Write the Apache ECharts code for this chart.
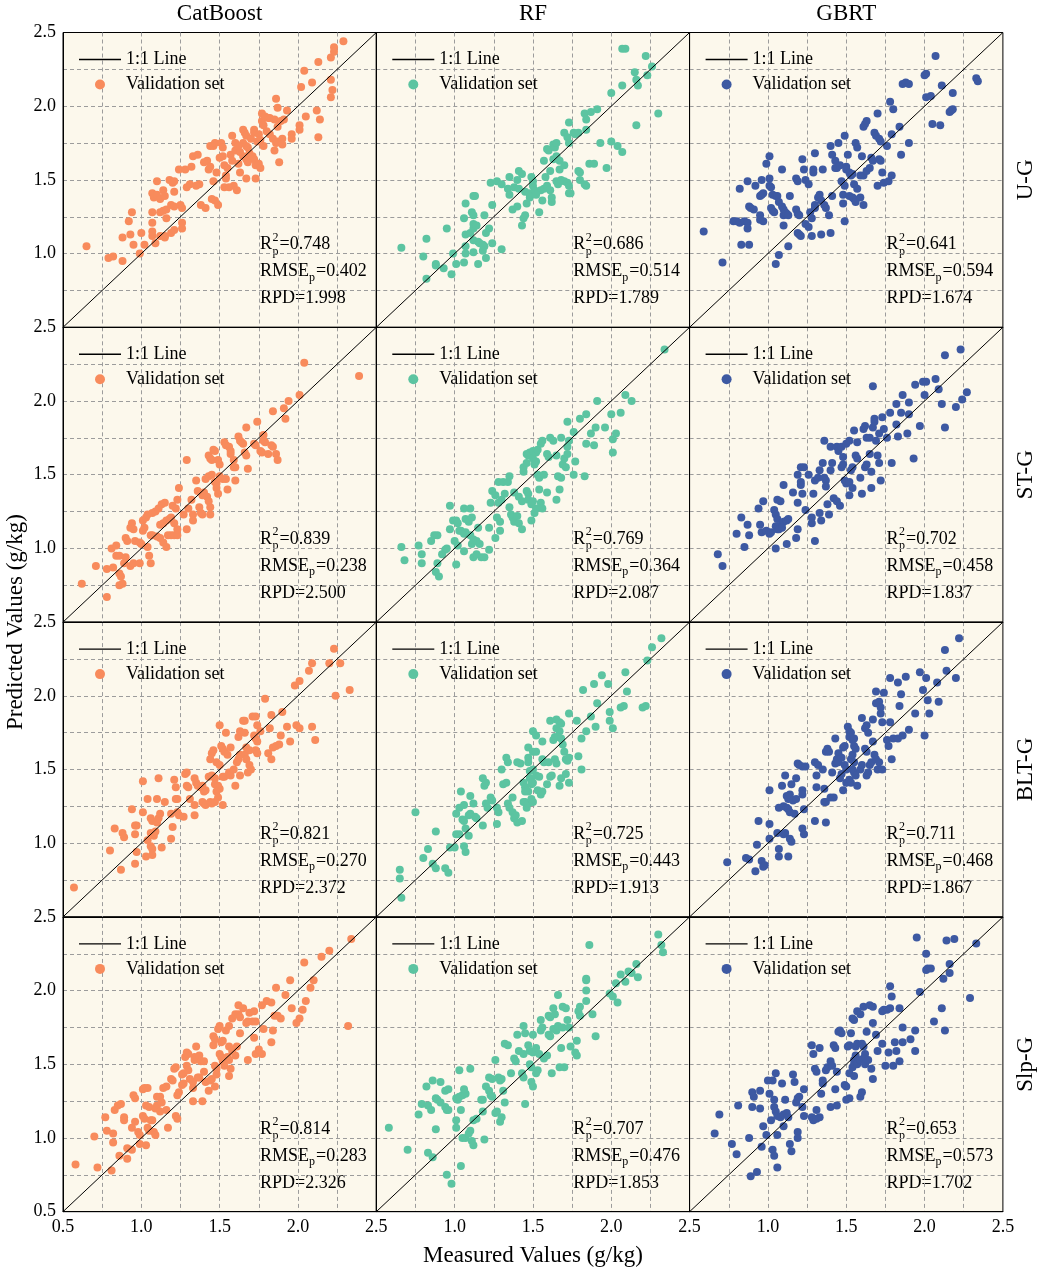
<!DOCTYPE html>
<html lang="en">
<head>
<meta charset="UTF-8">
<title>Measured vs Predicted</title>
<script src="https://cdn.jsdelivr.net/npm/echarts@6/dist/echarts.min.js"></script>
<style>
html, body { margin: 0; padding: 0; background: #fff; }
#chart { width: 1045px; height: 1276px; }
</style>
</head>
<body>
<div id="chart"></div>
<script>
// models (columns) and input groups (rows)
const models = ['CatBoost', 'RF', 'GBRT'];
const groups = ['U-G', 'ST-G', 'BLT-G', 'Slp-G'];
const colors = ['#F88B5C', '#5CC4A1', '#3D59A2'];
const tickLabels = ['0.5', '1.0', '1.5', '2.0', '2.5'];

// statistics per row (U-G, ST-G, BLT-G, Slp-G), per column (CatBoost, RF, GBRT)
const r2Vals = [['0.748', '0.686', '0.641'], ['0.839', '0.769', '0.702'], ['0.821', '0.725', '0.711'], ['0.814', '0.707', '0.653']];
const rmseVals = [['0.402', '0.514', '0.594'], ['0.238', '0.364', '0.458'], ['0.270', '0.443', '0.468'], ['0.283', '0.476', '0.573']];
const rpdVals = [['1.998', '1.789', '1.674'], ['2.500', '2.087', '1.837'], ['2.372', '1.913', '1.867'], ['2.326', '1.853', '1.702']];

// [measured, predicted]
const ugCat = [[0.65,1.05],[0.79,0.97],[0.82,0.98],[0.88,0.95],[0.88,1.11],[0.93,1.13],[0.92,1.22],[0.94,1.28],[0.95,1.06],[0.99,1.00],[1.00,1.14],[1.02,1.06],[1.07,1.12],[1.07,1.15],[1.07,1.21],[1.07,1.28],[1.07,1.41],[1.08,1.38],[1.10,1.49],[1.09,1.07],[1.12,1.12],[1.15,1.12],[1.15,1.11],[1.12,1.28],[1.14,1.29],[1.16,1.30],[1.16,1.24],[1.10,1.40],[1.12,1.37],[1.14,1.43],[1.15,1.39],[1.18,1.50],[1.20,1.48],[1.21,1.49],[1.21,1.42],[1.19,1.14],[1.21,1.16],[1.19,1.33],[1.21,1.32],[1.25,1.33],[1.26,1.31],[1.26,1.21],[1.26,1.17],[1.24,1.57],[1.28,1.57],[1.32,1.59],[1.33,1.66],[1.36,1.67],[1.31,1.47],[1.37,1.47],[1.38,1.33],[1.41,1.31],[1.42,1.63],[1.43,1.57],[1.44,1.73],[1.46,1.73],[1.47,1.75],[1.45,1.37],[1.47,1.36],[1.49,1.33],[1.46,1.49],[1.51,1.75],[1.52,1.72],[1.52,1.66],[1.53,1.60],[1.54,1.53],[1.54,1.51],[1.53,1.45],[1.58,1.80],[1.57,1.67],[1.60,1.70],[1.59,1.46],[1.61,1.43],[1.62,1.61],[1.63,1.55],[1.65,1.84],[1.66,1.82],[1.67,1.80],[1.65,1.75],[1.67,1.73],[1.68,1.72],[1.65,1.66],[1.67,1.64],[1.68,1.62],[1.69,1.68],[1.71,1.66],[1.72,1.64],[1.67,1.51],[1.72,1.84],[1.72,1.82],[1.75,1.81],[1.74,1.76],[1.76,1.77],[1.73,1.60],[1.75,1.61],[1.76,1.58],[1.73,1.51],[1.77,1.90],[1.78,1.87],[1.77,1.95],[1.79,1.93],[1.81,1.92],[1.82,1.92],[1.82,1.81],[1.85,1.91],[1.87,1.86],[1.84,1.78],[1.86,1.75],[1.87,1.76],[1.85,1.70],[1.86,2.05],[1.87,1.99],[1.88,1.62],[1.89,1.90],[1.91,1.91],[1.93,1.97],[1.90,1.78],[1.90,1.74],[1.96,1.81],[1.96,1.78],[2.01,1.87],[2.01,1.84],[2.02,2.13],[2.04,2.24],[2.05,1.93],[2.09,2.16],[2.12,1.97],[2.14,1.91],[2.13,1.79],[2.13,2.30],[2.21,2.33],[2.21,2.18],[2.21,2.06],[2.22,2.11],[2.23,2.40],[2.23,2.37],[2.29,2.44],[1.40,1.62],[1.44,1.59],[1.48,1.55],[1.55,1.58],[1.58,1.63],[1.60,1.75],[1.63,1.69],[1.50,1.65],[1.35,1.46],[1.29,1.45],[1.56,1.45],[1.62,1.73],[1.70,1.78],[1.78,1.73],[1.80,1.83]];
const ugRf = [[0.66,1.04],[0.80,0.98],[0.82,1.10],[0.82,0.83],[0.88,0.93],[0.88,0.92],[0.93,0.90],[0.95,1.17],[0.98,0.86],[0.99,1.00],[1.01,0.93],[1.06,0.94],[1.07,1.00],[1.07,1.05],[1.07,1.34],[1.06,1.24],[1.07,1.13],[1.10,1.14],[1.11,1.28],[1.12,1.26],[1.12,1.39],[1.13,1.39],[1.12,1.20],[1.12,1.17],[1.14,1.19],[1.12,1.01],[1.12,1.09],[1.15,1.08],[1.15,0.93],[1.16,1.07],[1.18,1.06],[1.19,1.05],[1.18,1.02],[1.20,0.97],[1.19,1.26],[1.20,1.14],[1.22,1.17],[1.23,1.48],[1.24,1.07],[1.24,1.33],[1.30,1.03],[1.27,1.49],[1.30,1.47],[1.34,1.44],[1.35,1.52],[1.37,1.30],[1.38,1.45],[1.40,1.32],[1.41,1.44],[1.41,1.56],[1.43,1.54],[1.43,1.19],[1.44,1.24],[1.45,1.26],[1.46,1.34],[1.48,1.38],[1.48,1.40],[1.49,1.52],[1.50,1.46],[1.50,1.49],[1.48,1.41],[1.51,1.43],[1.54,1.28],[1.55,1.43],[1.57,1.44],[1.59,1.46],[1.57,1.63],[1.59,1.71],[1.60,1.70],[1.61,1.43],[1.62,1.35],[1.62,1.38],[1.63,1.74],[1.64,1.72],[1.65,1.75],[1.63,1.64],[1.65,1.66],[1.65,1.49],[1.66,1.47],[1.67,1.57],[1.68,1.50],[1.70,1.49],[1.72,1.48],[1.73,1.46],[1.70,1.82],[1.72,1.79],[1.73,1.75],[1.73,1.89],[1.73,1.41],[1.74,1.41],[1.76,1.82],[1.77,1.81],[1.79,1.82],[1.79,1.56],[1.80,1.50],[1.80,1.55],[1.83,1.95],[1.84,1.91],[1.84,1.84],[1.84,1.46],[1.83,1.47],[1.87,1.96],[1.86,1.61],[1.89,1.61],[1.91,1.98],[1.93,1.75],[1.97,1.58],[2.00,2.09],[2.00,1.76],[2.04,1.73],[2.07,2.14],[2.07,1.69],[2.07,2.39],[2.09,2.39],[2.15,2.23],[2.16,2.18],[2.17,2.14],[2.16,1.87],[2.22,2.34],[2.23,2.21],[2.26,2.27],[2.30,1.95],[1.52,1.40],[1.56,1.36],[1.45,1.42],[1.58,1.52],[1.61,1.56],[1.67,1.63],[1.70,1.60],[1.40,1.50],[1.35,1.40]];
const ugGbrt = [[0.59,1.15],[0.71,0.94],[0.78,1.22],[0.80,1.22],[0.82,1.21],[0.85,1.22],[0.87,1.21],[0.87,1.17],[0.83,1.06],[0.88,1.06],[0.82,1.44],[0.87,1.49],[0.88,1.32],[0.89,1.31],[0.91,1.30],[0.92,1.46],[0.95,1.39],[0.96,1.40],[0.97,1.41],[0.95,1.26],[0.95,1.23],[0.97,1.22],[0.96,1.50],[0.99,1.61],[1.01,1.66],[1.01,1.51],[1.01,1.46],[1.02,1.45],[1.02,1.31],[1.03,1.29],[1.04,1.28],[1.03,1.40],[1.05,1.39],[1.06,1.39],[1.05,0.93],[1.07,0.99],[1.07,1.35],[1.09,1.32],[1.10,1.30],[1.09,1.57],[1.10,1.26],[1.11,1.28],[1.12,1.27],[1.13,1.26],[1.10,1.19],[1.13,1.05],[1.14,1.39],[1.18,1.51],[1.19,1.49],[1.18,1.30],[1.19,1.27],[1.20,1.26],[1.19,1.14],[1.20,1.13],[1.21,1.12],[1.22,1.64],[1.23,1.57],[1.24,1.50],[1.26,1.47],[1.24,1.20],[1.26,1.18],[1.27,1.28],[1.28,1.24],[1.28,1.12],[1.29,1.57],[1.29,1.55],[1.30,1.33],[1.30,1.31],[1.30,1.68],[1.32,1.38],[1.33,1.40],[1.34,1.36],[1.34,1.13],[1.35,1.57],[1.36,1.33],[1.37,1.31],[1.39,1.26],[1.40,1.14],[1.40,1.73],[1.41,1.67],[1.43,1.63],[1.41,1.39],[1.43,1.58],[1.44,1.58],[1.46,1.60],[1.45,1.75],[1.47,1.49],[1.48,1.40],[1.49,1.46],[1.48,1.34],[1.49,1.80],[1.49,1.22],[1.50,1.59],[1.50,1.57],[1.51,1.67],[1.52,1.55],[1.53,1.53],[1.54,1.54],[1.52,1.39],[1.54,1.38],[1.55,1.37],[1.55,1.47],[1.57,1.44],[1.56,1.75],[1.57,1.72],[1.56,1.35],[1.59,1.38],[1.61,1.33],[1.59,1.53],[1.61,1.53],[1.63,1.56],[1.65,1.58],[1.60,1.66],[1.61,1.86],[1.62,1.88],[1.63,1.90],[1.66,1.65],[1.67,1.63],[1.68,1.82],[1.69,1.80],[1.70,1.46],[1.70,1.95],[1.71,1.78],[1.72,1.76],[1.71,1.64],[1.72,1.63],[1.73,1.55],[1.74,1.48],[1.77,1.49],[1.76,1.73],[1.78,2.03],[1.79,1.81],[1.79,1.53],[1.80,1.98],[1.84,1.86],[1.85,1.67],[1.86,2.15],[1.88,2.16],[1.90,2.15],[1.90,1.75],[2.00,2.21],[2.01,2.22],[2.01,2.06],[2.04,2.07],[2.05,1.88],[2.07,2.34],[2.10,1.87],[2.11,2.14],[2.16,1.96],[2.17,1.97],[2.18,1.98],[2.18,2.09],[2.33,2.19],[2.34,2.17]];
const stCat = [[0.62,0.76],[0.71,0.88],[0.78,0.86],[0.82,0.87],[0.78,0.67],[0.81,1.00],[0.84,1.02],[0.84,0.95],[0.86,0.95],[0.86,0.83],[0.87,0.81],[0.86,0.75],[0.88,0.76],[0.89,0.90],[0.90,0.94],[0.90,1.07],[0.91,1.05],[0.93,1.14],[0.94,1.17],[0.95,1.13],[0.93,0.88],[0.95,0.90],[0.96,1.05],[0.99,1.04],[1.00,1.03],[0.99,0.90],[1.01,1.19],[1.03,1.21],[1.04,1.23],[1.01,1.12],[1.02,1.14],[1.04,1.01],[1.05,0.95],[1.06,0.90],[1.06,1.09],[1.07,1.09],[1.07,1.24],[1.09,1.25],[1.11,1.27],[1.10,1.08],[1.12,1.07],[1.12,1.16],[1.14,1.17],[1.13,1.30],[1.15,1.31],[1.14,1.04],[1.16,1.01],[1.16,1.19],[1.18,1.20],[1.19,1.21],[1.17,1.09],[1.19,1.09],[1.21,1.09],[1.23,1.09],[1.20,1.29],[1.22,1.27],[1.21,1.17],[1.23,1.33],[1.24,1.41],[1.23,1.13],[1.27,1.23],[1.30,1.27],[1.29,1.60],[1.29,1.13],[1.32,1.33],[1.33,1.23],[1.33,1.19],[1.35,1.46],[1.36,1.39],[1.37,1.28],[1.38,1.24],[1.39,1.23],[1.39,1.36],[1.40,1.38],[1.41,1.47],[1.43,1.49],[1.45,1.50],[1.42,1.35],[1.43,1.32],[1.44,1.28],[1.44,1.23],[1.43,1.63],[1.44,1.61],[1.45,1.60],[1.46,1.67],[1.47,1.66],[1.47,1.45],[1.48,1.44],[1.48,1.41],[1.49,1.60],[1.50,1.57],[1.49,1.37],[1.50,1.49],[1.52,1.47],[1.53,1.72],[1.54,1.70],[1.54,1.47],[1.55,1.40],[1.56,1.69],[1.57,1.66],[1.57,1.64],[1.59,1.60],[1.59,1.55],[1.60,1.55],[1.60,1.46],[1.62,1.76],[1.63,1.73],[1.64,1.72],[1.65,1.71],[1.66,1.65],[1.67,1.63],[1.67,1.82],[1.68,1.54],[1.72,1.71],[1.73,1.70],[1.74,1.86],[1.76,1.66],[1.78,1.77],[1.78,1.73],[1.79,1.72],[1.77,1.65],[1.81,1.64],[1.83,1.70],[1.84,1.69],[1.84,1.93],[1.86,1.64],[1.87,1.60],[1.91,1.95],[1.92,1.88],[1.94,2.00],[2.01,2.04],[2.04,2.26],[2.39,2.17]];
const stRf = [[0.66,1.01],[0.68,0.92],[0.77,1.02],[0.79,0.96],[0.79,0.90],[0.85,1.05],[0.87,1.09],[0.89,1.09],[0.89,0.90],[0.88,0.84],[0.90,0.81],[0.92,0.96],[0.94,0.99],[0.95,1.00],[0.97,1.29],[0.97,1.13],[0.99,1.19],[1.01,1.19],[1.02,1.17],[1.01,0.89],[1.00,1.05],[1.02,1.02],[1.03,1.12],[1.04,1.12],[1.06,1.10],[1.06,1.27],[1.07,1.20],[1.09,1.18],[1.06,0.98],[1.10,1.27],[1.11,1.21],[1.07,1.11],[1.10,1.09],[1.11,1.03],[1.12,0.94],[1.14,0.96],[1.12,1.06],[1.14,1.05],[1.15,1.14],[1.16,1.03],[1.17,0.94],[1.19,0.94],[1.22,0.99],[1.22,1.14],[1.23,1.31],[1.24,1.39],[1.26,1.36],[1.26,1.07],[1.27,1.21],[1.29,1.18],[1.28,1.45],[1.28,1.31],[1.30,1.33],[1.29,1.12],[1.31,1.45],[1.34,1.45],[1.32,1.37],[1.35,1.49],[1.35,1.28],[1.36,1.23],[1.37,1.21],[1.38,1.18],[1.38,1.38],[1.40,1.22],[1.41,1.17],[1.43,1.13],[1.41,1.35],[1.43,1.32],[1.44,1.52],[1.44,1.55],[1.46,1.58],[1.46,1.64],[1.47,1.63],[1.48,1.65],[1.46,1.39],[1.47,1.37],[1.47,1.33],[1.49,1.19],[1.49,1.30],[1.50,1.32],[1.50,1.61],[1.51,1.57],[1.52,1.59],[1.50,1.66],[1.52,1.65],[1.53,1.67],[1.51,1.24],[1.52,1.27],[1.53,1.50],[1.54,1.48],[1.54,1.40],[1.55,1.31],[1.56,1.27],[1.55,1.71],[1.56,1.73],[1.57,1.50],[1.59,1.64],[1.60,1.62],[1.59,1.38],[1.61,1.75],[1.63,1.73],[1.65,1.63],[1.65,1.33],[1.66,1.49],[1.68,1.48],[1.67,1.40],[1.68,1.75],[1.69,1.57],[1.70,1.61],[1.71,1.55],[1.72,1.86],[1.72,1.64],[1.72,1.69],[1.73,1.73],[1.76,1.79],[1.76,1.50],[1.77,1.59],[1.80,1.88],[1.83,1.49],[1.84,1.91],[1.84,1.71],[1.87,1.78],[1.89,1.70],[1.90,1.82],[1.91,2.00],[1.96,1.82],[2.00,1.91],[2.01,1.65],[2.01,1.74],[2.03,1.78],[2.06,1.92],[2.09,2.04],[2.13,2.00],[2.34,2.35]];
const stGbrt = [[0.68,0.96],[0.71,0.88],[0.80,1.10],[0.83,1.21],[0.85,1.01],[0.87,1.16],[0.88,1.09],[0.94,1.27],[0.95,1.16],[0.96,1.11],[0.97,1.32],[0.99,1.12],[1.01,1.10],[1.02,1.11],[1.04,1.26],[1.05,1.23],[1.06,1.20],[1.05,1.00],[1.05,1.15],[1.06,1.13],[1.06,1.33],[1.08,1.32],[1.09,1.17],[1.10,1.18],[1.12,1.19],[1.13,1.20],[1.07,1.13],[1.09,1.14],[1.10,1.43],[1.12,1.03],[1.16,1.38],[1.18,1.07],[1.19,1.13],[1.19,1.31],[1.19,1.50],[1.21,1.55],[1.23,1.55],[1.21,1.45],[1.21,1.43],[1.22,1.37],[1.24,1.26],[1.26,1.50],[1.28,1.21],[1.28,1.17],[1.29,1.37],[1.30,1.05],[1.30,1.46],[1.32,1.48],[1.33,1.53],[1.33,1.24],[1.34,1.19],[1.35,1.58],[1.36,1.48],[1.37,1.46],[1.36,1.73],[1.37,1.42],[1.38,1.30],[1.39,1.23],[1.40,1.69],[1.40,1.53],[1.41,1.58],[1.42,1.34],[1.44,1.32],[1.44,1.69],[1.45,1.66],[1.47,1.69],[1.46,1.29],[1.47,1.55],[1.48,1.62],[1.48,1.57],[1.49,1.46],[1.50,1.44],[1.52,1.45],[1.50,1.71],[1.52,1.73],[1.52,1.36],[1.53,1.53],[1.54,1.55],[1.54,1.41],[1.55,1.80],[1.56,1.63],[1.57,1.61],[1.57,1.72],[1.59,1.48],[1.60,1.37],[1.61,1.81],[1.62,1.83],[1.62,1.55],[1.63,1.57],[1.63,1.75],[1.65,1.75],[1.65,1.64],[1.66,1.52],[1.66,1.41],[1.67,1.82],[1.68,1.86],[1.68,1.88],[1.67,2.10],[1.69,1.73],[1.71,1.78],[1.70,1.63],[1.71,1.58],[1.72,1.46],[1.73,1.89],[1.74,1.81],[1.76,1.75],[1.78,1.92],[1.79,1.58],[1.82,1.98],[1.82,1.84],[1.83,1.76],[1.85,1.92],[1.86,2.04],[1.89,1.78],[1.90,1.99],[1.90,1.91],[1.93,1.61],[1.94,2.11],[1.97,1.83],[1.99,2.13],[2.01,2.13],[2.00,2.04],[2.07,2.15],[2.09,2.08],[2.11,1.98],[2.13,1.82],[2.13,2.31],[2.20,1.96],[2.23,2.35],[2.24,2.01],[2.27,2.06]];
const bltCat = [[0.57,0.70],[0.80,0.95],[0.83,1.10],[0.87,0.82],[0.88,1.07],[0.89,1.04],[0.94,1.23],[0.96,1.12],[0.97,1.12],[0.96,1.06],[0.96,0.86],[0.97,0.94],[1.01,1.21],[1.01,1.42],[1.03,0.91],[1.04,1.30],[1.04,1.02],[1.06,0.98],[1.07,0.96],[1.06,1.17],[1.07,1.15],[1.10,1.14],[1.11,1.17],[1.06,1.07],[1.08,1.05],[1.09,1.08],[1.07,0.92],[1.10,1.30],[1.11,1.44],[1.12,1.20],[1.13,0.97],[1.15,1.28],[1.19,1.03],[1.19,1.20],[1.20,1.11],[1.21,1.43],[1.22,1.38],[1.22,1.30],[1.23,1.30],[1.23,1.21],[1.24,1.19],[1.27,1.18],[1.28,1.47],[1.29,1.48],[1.29,1.39],[1.30,1.38],[1.31,1.30],[1.34,1.19],[1.34,1.26],[1.34,1.44],[1.35,1.41],[1.36,1.39],[1.38,1.38],[1.39,1.39],[1.39,1.28],[1.40,1.27],[1.41,1.26],[1.40,1.35],[1.41,1.36],[1.43,1.45],[1.44,1.57],[1.45,1.61],[1.46,1.63],[1.44,1.28],[1.45,1.27],[1.47,1.28],[1.45,1.46],[1.47,1.44],[1.47,1.40],[1.49,1.39],[1.50,1.37],[1.48,1.35],[1.49,1.31],[1.48,1.55],[1.50,1.53],[1.50,1.80],[1.51,1.66],[1.52,1.64],[1.53,1.62],[1.52,1.45],[1.53,1.45],[1.52,1.26],[1.54,1.75],[1.55,1.60],[1.56,1.48],[1.57,1.46],[1.59,1.50],[1.57,1.65],[1.60,1.39],[1.61,1.55],[1.62,1.57],[1.63,1.60],[1.62,1.72],[1.63,1.76],[1.63,1.46],[1.65,1.83],[1.66,1.83],[1.66,1.75],[1.66,1.60],[1.67,1.57],[1.67,1.65],[1.69,1.63],[1.68,1.48],[1.69,1.53],[1.70,1.50],[1.71,1.86],[1.73,1.86],[1.72,1.73],[1.73,1.71],[1.74,1.69],[1.73,1.63],[1.74,1.61],[1.74,1.80],[1.76,1.76],[1.79,1.98],[1.81,1.61],[1.83,1.57],[1.82,1.78],[1.83,1.87],[1.84,1.65],[1.86,1.66],[1.88,1.67],[1.89,1.73],[1.90,1.89],[1.93,1.79],[1.95,1.69],[1.98,2.07],[2.01,2.10],[1.99,1.80],[2.01,1.78],[2.07,2.17],[2.09,2.22],[2.09,1.79],[2.11,1.70],[2.20,2.22],[2.23,2.32],[2.24,2.00],[2.27,2.22],[2.33,2.04]];
const bltRf = [[0.66,0.63],[0.65,0.76],[0.65,0.82],[0.75,1.21],[0.80,0.90],[0.83,0.96],[0.86,0.86],[0.88,0.83],[0.88,1.08],[0.94,0.83],[0.96,0.80],[0.97,0.97],[1.00,0.97],[1.01,1.06],[1.03,1.06],[1.01,1.20],[1.03,1.24],[1.04,1.35],[1.06,1.26],[1.05,1.16],[1.06,1.15],[1.06,0.98],[1.07,0.94],[1.07,1.10],[1.09,1.05],[1.09,1.19],[1.10,1.20],[1.10,1.32],[1.12,1.27],[1.13,1.18],[1.14,1.17],[1.18,1.12],[1.18,1.44],[1.19,1.39],[1.20,1.41],[1.20,1.27],[1.21,1.24],[1.23,1.31],[1.24,1.29],[1.27,1.24],[1.28,1.21],[1.27,1.13],[1.30,1.50],[1.31,1.40],[1.33,1.41],[1.33,1.58],[1.34,1.55],[1.34,1.27],[1.35,1.24],[1.37,1.31],[1.37,1.21],[1.38,1.17],[1.39,1.19],[1.40,1.55],[1.42,1.54],[1.40,1.14],[1.43,1.15],[1.44,1.41],[1.45,1.38],[1.44,1.28],[1.45,1.28],[1.45,1.35],[1.47,1.35],[1.46,1.24],[1.47,1.27],[1.47,1.58],[1.47,1.55],[1.47,1.65],[1.48,1.44],[1.49,1.40],[1.50,1.41],[1.48,1.49],[1.50,1.50],[1.49,1.30],[1.50,1.28],[1.50,1.62],[1.52,1.62],[1.50,1.76],[1.52,1.73],[1.52,1.46],[1.54,1.45],[1.53,1.36],[1.55,1.33],[1.56,1.35],[1.56,1.57],[1.57,1.55],[1.56,1.69],[1.59,1.40],[1.60,1.55],[1.61,1.83],[1.61,1.45],[1.62,1.46],[1.63,1.70],[1.64,1.72],[1.64,1.57],[1.65,1.54],[1.65,1.84],[1.67,1.82],[1.68,1.81],[1.65,1.78],[1.67,1.76],[1.66,1.72],[1.68,1.71],[1.67,1.39],[1.68,1.44],[1.69,1.67],[1.70,1.62],[1.71,1.57],[1.71,1.47],[1.72,1.56],[1.73,1.58],[1.73,1.41],[1.73,1.88],[1.78,1.83],[1.79,1.59],[1.81,1.50],[1.81,1.71],[1.82,2.04],[1.84,1.76],[1.87,1.86],[1.89,2.08],[1.90,1.79],[1.91,1.95],[1.94,2.14],[1.98,2.08],[1.99,1.89],[1.99,1.83],[2.01,1.78],[2.06,1.92],[2.08,1.93],[2.09,2.16],[2.10,2.03],[2.20,1.92],[2.22,1.93],[2.23,2.24],[2.26,2.33],[2.32,2.39]];
const bltGbrt = [[0.74,0.87],[0.86,0.90],[0.88,0.89],[0.92,0.81],[0.96,0.88],[0.97,0.84],[0.98,0.85],[0.93,0.99],[0.94,1.15],[1.01,1.13],[1.01,1.03],[1.01,1.36],[1.06,1.07],[1.10,1.06],[1.11,1.07],[1.07,0.96],[1.07,0.91],[1.13,0.91],[1.07,1.24],[1.10,1.25],[1.09,1.39],[1.11,1.46],[1.12,1.32],[1.13,1.30],[1.14,1.33],[1.12,1.24],[1.13,1.23],[1.14,1.21],[1.14,1.03],[1.15,1.01],[1.15,1.40],[1.16,1.29],[1.18,1.30],[1.17,1.20],[1.18,1.44],[1.19,1.54],[1.20,1.53],[1.22,1.52],[1.24,1.52],[1.22,1.36],[1.22,1.33],[1.22,1.10],[1.23,1.06],[1.23,1.23],[1.30,1.55],[1.32,1.53],[1.31,1.46],[1.31,1.38],[1.30,1.15],[1.35,1.50],[1.36,1.37],[1.36,1.28],[1.37,1.28],[1.37,1.14],[1.37,1.62],[1.38,1.64],[1.39,1.62],[1.40,1.31],[1.42,1.31],[1.41,1.48],[1.43,1.54],[1.43,1.71],[1.44,1.57],[1.45,1.55],[1.45,1.61],[1.47,1.58],[1.46,1.44],[1.47,1.47],[1.48,1.36],[1.48,1.65],[1.49,1.66],[1.49,1.53],[1.50,1.50],[1.50,1.41],[1.52,1.43],[1.53,1.41],[1.51,1.79],[1.52,1.76],[1.53,1.75],[1.52,1.72],[1.54,1.70],[1.55,1.71],[1.53,1.57],[1.54,1.60],[1.55,1.55],[1.54,1.50],[1.55,1.48],[1.56,1.46],[1.55,1.66],[1.56,1.64],[1.57,1.39],[1.59,1.50],[1.60,1.53],[1.60,1.85],[1.62,1.78],[1.63,1.80],[1.62,1.64],[1.63,1.62],[1.63,1.46],[1.64,1.48],[1.64,1.75],[1.65,1.53],[1.66,1.55],[1.67,1.84],[1.67,1.69],[1.68,1.60],[1.69,1.57],[1.69,2.03],[1.69,1.95],[1.70,1.50],[1.71,1.55],[1.71,1.96],[1.72,1.92],[1.72,1.88],[1.73,1.82],[1.73,1.50],[1.74,2.02],[1.76,1.70],[1.77,1.66],[1.78,2.12],[1.78,1.82],[1.79,1.57],[1.80,1.71],[1.83,2.09],[1.84,1.93],[1.83,1.71],[1.86,1.73],[1.85,2.01],[1.88,2.13],[1.90,1.77],[1.94,1.88],[1.97,2.16],[1.99,2.04],[2.00,1.73],[2.01,2.12],[2.02,1.97],[2.03,1.88],[2.08,2.09],[2.09,1.96],[2.13,2.31],[2.14,2.17],[2.20,2.12],[2.22,2.39]];
const slpCat = [[0.58,0.82],[0.70,1.01],[0.72,0.80],[0.77,1.14],[0.78,1.05],[0.82,1.03],[0.81,0.78],[0.82,0.97],[0.83,1.19],[0.85,1.22],[0.87,1.23],[0.86,0.88],[0.89,1.14],[0.89,1.12],[0.91,0.86],[0.91,0.93],[0.94,0.92],[0.94,1.07],[0.95,1.29],[0.96,1.27],[0.96,1.11],[0.98,1.04],[0.99,1.02],[0.99,0.96],[1.03,0.95],[1.01,1.33],[1.02,1.34],[1.01,1.15],[1.02,1.13],[1.03,1.22],[1.05,1.21],[1.04,1.34],[1.04,1.07],[1.05,1.05],[1.06,1.12],[1.07,1.12],[1.08,1.04],[1.09,1.02],[1.09,1.20],[1.10,1.22],[1.10,1.28],[1.12,1.28],[1.12,1.18],[1.13,1.24],[1.14,1.34],[1.16,1.35],[1.16,1.19],[1.17,1.07],[1.19,1.40],[1.20,1.39],[1.21,1.47],[1.22,1.48],[1.22,1.15],[1.23,1.13],[1.23,1.29],[1.24,1.31],[1.26,1.36],[1.27,1.37],[1.26,1.43],[1.27,1.44],[1.28,1.55],[1.29,1.58],[1.30,1.57],[1.29,1.49],[1.30,1.46],[1.31,1.40],[1.33,1.38],[1.33,1.34],[1.33,1.25],[1.34,1.53],[1.34,1.55],[1.35,1.62],[1.36,1.41],[1.37,1.41],[1.37,1.56],[1.38,1.52],[1.40,1.52],[1.39,1.25],[1.40,1.45],[1.41,1.38],[1.43,1.32],[1.44,1.39],[1.45,1.40],[1.46,1.69],[1.47,1.67],[1.46,1.63],[1.47,1.49],[1.48,1.47],[1.47,1.35],[1.48,1.43],[1.49,1.74],[1.50,1.76],[1.50,1.57],[1.51,1.55],[1.51,1.65],[1.52,1.66],[1.52,1.52],[1.53,1.49],[1.54,1.73],[1.56,1.76],[1.55,1.55],[1.56,1.53],[1.56,1.62],[1.56,1.42],[1.57,1.47],[1.58,1.81],[1.60,1.84],[1.58,1.59],[1.60,1.56],[1.61,1.62],[1.62,1.84],[1.63,1.82],[1.65,1.88],[1.63,1.71],[1.67,1.78],[1.68,1.79],[1.69,1.85],[1.68,1.53],[1.71,1.79],[1.73,1.79],[1.72,1.68],[1.73,1.57],[1.77,1.57],[1.75,1.60],[1.78,1.74],[1.80,1.93],[1.83,1.65],[1.84,1.73],[1.85,1.83],[1.87,1.83],[1.89,1.81],[1.99,1.78],[2.01,1.81],[2.03,1.87],[2.05,1.93],[2.32,1.76],[1.72,1.86],[1.77,1.90],[1.83,1.92],[1.92,1.97],[1.95,2.07],[2.04,2.19],[2.08,2.02],[2.10,2.07],[2.15,2.23],[2.20,2.27],[2.34,2.35],[1.96,1.88],[1.86,2.02],[1.62,1.90]];
const slpRf = [[0.58,1.07],[0.70,0.92],[0.77,1.16],[0.79,1.23],[0.82,1.35],[0.83,0.90],[0.83,1.22],[0.85,1.19],[0.86,1.39],[0.86,0.87],[0.88,1.06],[0.88,1.27],[0.89,1.26],[0.91,1.24],[0.91,1.38],[0.94,1.21],[0.95,1.19],[0.96,1.19],[0.94,1.32],[0.96,1.33],[0.95,0.75],[0.98,0.69],[1.01,1.27],[1.02,1.26],[1.03,1.28],[1.01,1.12],[1.01,1.07],[1.03,1.46],[1.04,1.19],[1.04,0.81],[1.05,1.29],[1.07,1.30],[1.06,1.33],[1.05,1.00],[1.07,1.00],[1.09,1.03],[1.10,1.05],[1.10,1.47],[1.11,0.98],[1.12,0.95],[1.12,1.12],[1.14,1.13],[1.17,1.26],[1.18,1.26],[1.18,1.18],[1.19,0.99],[1.20,1.35],[1.22,1.32],[1.22,1.41],[1.24,1.40],[1.23,1.29],[1.24,1.28],[1.26,1.17],[1.27,1.18],[1.26,1.53],[1.28,1.41],[1.29,1.39],[1.30,1.40],[1.29,1.11],[1.30,1.14],[1.31,1.32],[1.32,1.24],[1.32,1.64],[1.34,1.63],[1.36,1.44],[1.38,1.54],[1.39,1.52],[1.40,1.70],[1.41,1.59],[1.44,1.57],[1.43,1.44],[1.44,1.41],[1.44,1.76],[1.45,1.71],[1.45,1.23],[1.47,1.63],[1.48,1.59],[1.50,1.58],[1.48,1.50],[1.49,1.48],[1.49,1.38],[1.50,1.35],[1.50,1.70],[1.52,1.44],[1.53,1.46],[1.52,1.61],[1.54,1.57],[1.55,1.73],[1.56,1.75],[1.55,1.80],[1.57,1.54],[1.59,1.56],[1.60,1.83],[1.61,1.82],[1.60,1.70],[1.61,1.69],[1.62,1.44],[1.63,1.88],[1.64,1.84],[1.63,1.74],[1.65,1.73],[1.66,1.97],[1.66,1.76],[1.67,1.48],[1.68,1.61],[1.69,1.89],[1.71,1.88],[1.69,1.75],[1.70,1.48],[1.72,1.80],[1.74,1.62],[1.73,1.75],[1.77,1.58],[1.78,1.56],[1.78,1.66],[1.79,1.86],[1.80,1.83],[1.80,1.89],[1.84,2.07],[1.84,2.08],[1.84,2.00],[1.84,1.93],[1.86,2.31],[1.88,1.84],[1.90,1.69],[1.99,1.98],[2.01,1.96],[2.03,2.05],[2.04,1.92],[2.06,2.11],[2.09,2.06],[2.11,2.13],[2.13,2.12],[2.16,2.18],[2.17,2.09],[2.30,2.38],[2.32,2.31],[2.33,2.26]];
const slpGbrt = [[0.66,1.03],[0.69,1.16],[0.77,0.96],[0.80,0.89],[0.81,1.22],[0.88,1.00],[0.89,0.74],[0.93,0.77],[0.90,1.31],[0.91,1.28],[0.95,1.32],[0.90,1.21],[0.95,1.20],[0.96,0.94],[0.99,1.02],[0.97,1.08],[1.00,1.39],[1.03,1.39],[1.01,1.30],[1.04,1.26],[1.02,1.12],[1.04,1.21],[1.05,1.18],[1.03,0.92],[1.04,0.88],[1.05,1.44],[1.06,1.02],[1.06,0.80],[1.06,1.15],[1.08,1.14],[1.10,1.16],[1.09,1.37],[1.10,1.08],[1.11,1.26],[1.12,1.17],[1.13,1.14],[1.14,0.96],[1.15,0.91],[1.16,1.43],[1.17,1.38],[1.18,1.24],[1.19,1.27],[1.20,1.28],[1.19,1.04],[1.19,1.00],[1.22,1.21],[1.23,1.15],[1.23,1.33],[1.28,1.14],[1.29,1.12],[1.28,1.63],[1.29,1.57],[1.30,1.47],[1.31,1.45],[1.31,1.13],[1.33,1.14],[1.31,1.19],[1.33,1.61],[1.34,1.30],[1.35,1.39],[1.35,1.37],[1.37,1.46],[1.38,1.48],[1.40,1.21],[1.40,1.52],[1.41,1.49],[1.42,1.63],[1.43,1.61],[1.43,1.33],[1.44,1.22],[1.44,1.45],[1.45,1.72],[1.46,1.73],[1.47,1.71],[1.49,1.36],[1.50,1.35],[1.50,1.26],[1.52,1.27],[1.51,1.62],[1.52,1.63],[1.52,1.44],[1.53,1.71],[1.54,1.48],[1.55,1.50],[1.55,1.53],[1.54,1.81],[1.55,1.80],[1.55,1.42],[1.56,1.56],[1.56,1.62],[1.57,1.64],[1.57,1.86],[1.59,1.84],[1.57,1.50],[1.59,1.53],[1.59,1.28],[1.60,1.31],[1.60,1.64],[1.61,1.62],[1.62,1.57],[1.61,1.54],[1.62,1.50],[1.61,1.89],[1.63,1.72],[1.64,1.53],[1.65,1.90],[1.67,1.89],[1.66,1.47],[1.67,1.40],[1.67,1.78],[1.69,1.70],[1.70,1.59],[1.73,1.64],[1.73,1.86],[1.74,1.87],[1.76,1.87],[1.78,1.88],[1.75,1.49],[1.77,1.58],[1.78,2.03],[1.79,1.96],[1.80,1.49],[1.82,1.59],[1.81,1.65],[1.84,1.52],[1.84,1.88],[1.86,1.75],[1.86,1.65],[1.91,1.67],[1.94,1.73],[1.94,1.59],[1.95,2.36],[1.97,1.99],[2.01,2.14],[2.02,2.15],[2.04,2.15],[2.01,2.25],[2.06,1.79],[2.11,1.88],[2.12,2.08],[2.13,1.73],[2.14,2.34],[2.16,2.18],[2.16,2.12],[2.19,2.35],[2.29,1.95],[2.33,2.32]];

const panelData = [
  [ugCat, ugRf, ugGbrt],
  [stCat, stRf, stGbrt],
  [bltCat, bltRf, bltGbrt],
  [slpCat, slpRf, slpGbrt]
];
const oneToOne = [[0.5, 0.5], [2.5, 2.5]];

const FONT = '"Liberation Serif", "Times New Roman", serif';
const GL = 63, GW = 313.3, GT = 32.5, GH = 294.8;
const gx = c => GL + c * GW;
const gy = r => GT + r * GH;
// thin bar used as the legend icon of the 1:1 line
const lineIcon = 'path://M0,0 L42,0 L42,1.4 L0,1.4 Z';

function labelFmt(hideMin) {
  return function (v) {
    const k = Math.round(v * 100);
    if (k % 50 !== 0) return '';
    if (hideMin && k === 50) return '';
    return tickLabels[(k - 50) / 50];
  };
}

const grids = [], xAxes = [], yAxes = [], series = [], legends = [], graphics = [];
const splitLine = { show: true, showMinLine: false, showMaxLine: false, lineStyle: { color: '#9c9c9c', type: [4, 3], width: 1 } };

for (let r = 0; r < 4; r++) {
  for (let c = 0; c < 3; c++) {
    const i = r * 3 + c;
    grids.push({ left: gx(c), top: gy(r), width: GW, height: GH, show: true, backgroundColor: '#FCF8EC', borderColor: '#000', borderWidth: 1 });
    xAxes.push({
      gridIndex: i, type: 'value', min: 0.5, max: 2.5, interval: 0.25,
      axisLine: { show: true, lineStyle: { color: '#000' } },
      axisTick: { show: false },
      axisLabel: { show: r === 3, showMinLabel: true, showMaxLabel: true, formatter: labelFmt(c > 0), color: '#000', fontSize: 18, fontFamily: FONT, margin: 7 },
      splitLine: splitLine
    });
    yAxes.push({
      gridIndex: i, type: 'value', min: 0.5, max: 2.5, interval: 0.25,
      axisLine: { show: true, lineStyle: { color: '#000' } },
      axisTick: { show: false },
      axisLabel: { show: c === 0, showMinLabel: true, showMaxLabel: true, formatter: labelFmt(r < 3), color: '#000', fontSize: 18, fontFamily: FONT, margin: 7 },
      splitLine: splitLine
    });
    series.push({
      type: 'scatter', name: 'Validation set ' + i, xAxisIndex: i, yAxisIndex: i,
      data: panelData[r][c], symbolSize: 8, itemStyle: { color: colors[c], opacity: 1 }, z: 2
    });
    series.push({
      type: 'line', name: '1:1 Line ' + i, xAxisIndex: i, yAxisIndex: i,
      data: oneToOne, symbol: 'none', itemStyle: { color: '#000' }, lineStyle: { color: '#000', width: 1 }, z: 3, silent: true
    });
    legends.push({
      left: gx(c) + 16, top: gy(r) + 18, orient: 'vertical', padding: 0,
      itemWidth: 42, itemHeight: 10, itemGap: 7, selectedMode: false,
      data: [{ name: '1:1 Line ' + i, icon: lineIcon }, { name: 'Validation set ' + i, icon: 'circle' }],
      formatter: name => name.replace(/ \d+$/, ''),
      textStyle: { fontSize: 18, fontFamily: FONT, color: '#000' }
    });

    // statistics block
    const sx = gx(c) + 197, sy = gy(r) + 212;
    const txt = (x, y, t, size) => ({ type: 'text', x: x, y: y, silent: true, style: { text: t, fontSize: size, fontFamily: FONT, fill: '#000', align: 'left', verticalAlign: 'middle' } });
    graphics.push(txt(sx, sy, 'R', 18));
    graphics.push(txt(sx + 12.5, sy - 7, '2', 12));
    graphics.push(txt(sx + 12.5, sy + 7, 'p', 12));
    graphics.push(txt(sx + 19.5, sy, '=' + r2Vals[r][c], 18));
    graphics.push(txt(sx, sy + 27, 'RMSE', 18));
    graphics.push(txt(sx + 49, sy + 33, 'p', 12));
    graphics.push(txt(sx + 56, sy + 27, '=' + rmseVals[r][c], 18));
    graphics.push(txt(sx, sy + 54, 'RPD=' + rpdVals[r][c], 18));
  }
}

// column titles
models.forEach((m, c) => {
  graphics.push({ type: 'text', x: gx(c) + GW / 2, y: 14, silent: true, style: { text: m, fontSize: 23, fontFamily: FONT, fill: '#000', align: 'center', verticalAlign: 'middle' } });
});
// row labels on the right
groups.forEach((g, r) => {
  graphics.push({ type: 'text', x: 1026, y: gy(r) + GH / 2, rotation: Math.PI / 2, silent: true, style: { text: g, fontSize: 23, fontFamily: FONT, fill: '#000', align: 'center', verticalAlign: 'middle' } });
});
// axis names
graphics.push({ type: 'text', x: 16, y: GT + 2 * GH, rotation: Math.PI / 2, silent: true, style: { text: 'Predicted Values (g/kg)', fontSize: 23, fontFamily: FONT, fill: '#000', align: 'center', verticalAlign: 'middle' } });
graphics.push({ type: 'text', x: GL + 1.5 * GW, y: 1256, silent: true, style: { text: 'Measured Values (g/kg)', fontSize: 23, fontFamily: FONT, fill: '#000', align: 'center', verticalAlign: 'middle' } });

const chart = echarts.init(document.getElementById('chart'));
chart.setOption({
  animation: false,
  backgroundColor: '#fff',
  grid: grids,
  xAxis: xAxes,
  yAxis: yAxes,
  legend: legends,
  series: series,
  graphic: graphics
});
</script>
</body>
</html>
